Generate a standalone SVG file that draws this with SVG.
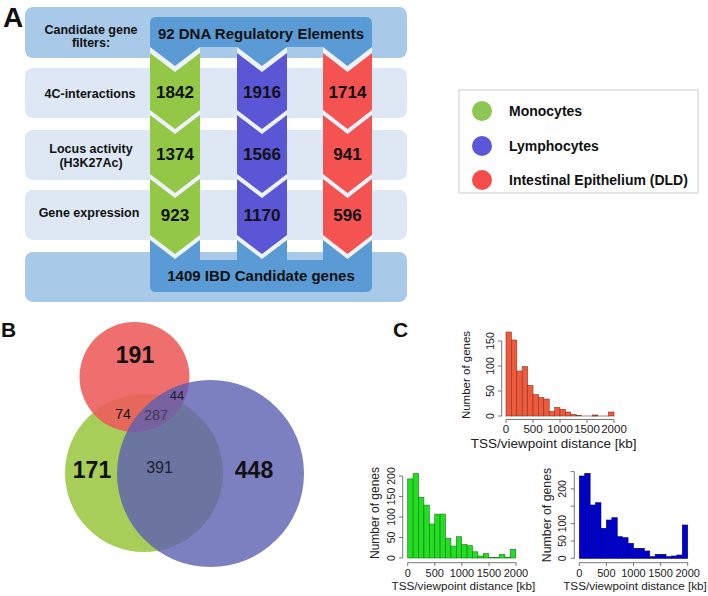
<svg xmlns="http://www.w3.org/2000/svg" width="708" height="596" viewBox="0 0 708 596">
<style>
text{font-family:"Liberation Sans",Arial,sans-serif;fill:#111}
.b{font-weight:bold}
.lbl{font-size:12.5px;font-weight:bold;text-anchor:middle}
.num{font-size:17px;font-weight:bold;text-anchor:middle}
.band{fill:#a9c9e9}
.row{fill:#dde8f4}
.dk{fill:#5b9bd5}
.gr{fill:#92c846}
.bl{fill:#5a56d6}
.rd{fill:#f55252}
.gap{fill:#eef3fa}
.ax{stroke:#555;stroke-width:0.8;fill:none}
.hr rect{fill:#f05a3c;stroke:#8a3322;stroke-width:0.6}
.hg rect{fill:#22dd22;stroke:#137a13;stroke-width:0.6}
.hb rect{fill:#0000cc;stroke:#00007a;stroke-width:0.6}
.tk{font-size:11.5px;text-anchor:middle;fill:#222}
.tk2{font-size:11px;text-anchor:middle;fill:#222}
.yt{font-size:10.5px;text-anchor:middle;fill:#222}
</style>

<!-- Panel A -->
<text class="b" x="3" y="27" font-size="28">A</text>
<g id="bands">
<rect class="band" x="25" y="7" width="382" height="51" rx="8"/>
<rect class="row" x="25" y="68" width="382" height="50" rx="8"/>
<rect class="row" x="25" y="130" width="382" height="50" rx="8"/>
<rect class="row" x="25" y="190" width="382" height="50" rx="8"/>
<rect class="band" x="25" y="252" width="382" height="50" rx="8"/>
</g>
<g id="row-labels">
<text class="lbl" x="91" y="33.5">Candidate gene</text>
<text class="lbl" x="91" y="47">filters:</text>
<text class="lbl" x="90" y="98">4C-interactions</text>
<text class="lbl" x="91" y="153">Locus activity</text>
<text class="lbl" x="91" y="167">(H3K27Ac)</text>
<text class="lbl" x="89" y="217">Gene expression</text>
</g>
<g id="column-gaps">
<rect class="gap" x="150" y="47" width="50" height="214"/>
<rect class="gap" x="237" y="47" width="50" height="214"/>
<rect class="gap" x="323" y="47" width="49" height="214"/>
</g>
<g id="bottom-box">
<path class="dk" d="M150,240 L175,259 L200,240 L200,260 L237,260 L237,240 L262,259 L287,240 L287,260 L323,260 L323,240 L347.5,259 L372,240 L372,286 Q372,292 366,292 L156,292 Q150,292 150,286 Z"/>
<text class="b" x="261" y="281" font-size="15" text-anchor="middle">1409 IBD Candidate genes</text>
</g>
<g id="monocytes-column">
<polygon class="gr" points="150,53 175,72 200,53 200,110 175,129 150,110"/>
<polygon class="gr" points="150,115 175,134 200,115 200,174 175,193 150,174"/>
<polygon class="gr" points="150,179 175,198 200,179 200,235 175,254 150,235"/>
<text class="num" x="175" y="98">1842</text>
<text class="num" x="175" y="160">1374</text>
<text class="num" x="175" y="221">923</text>
</g>
<g id="lymphocytes-column">
<polygon class="bl" points="237,53 262,72 287,53 287,110 262,129 237,110"/>
<polygon class="bl" points="237,115 262,134 287,115 287,174 262,193 237,174"/>
<polygon class="bl" points="237,179 262,198 287,179 287,235 262,254 237,235"/>
<text class="num" x="262" y="98">1916</text>
<text class="num" x="262" y="160">1566</text>
<text class="num" x="262" y="221">1170</text>
</g>
<g id="epithelium-column">
<polygon class="rd" points="323,53 347.5,72 372,53 372,110 347.5,129 323,110"/>
<polygon class="rd" points="323,115 347.5,134 372,115 372,174 347.5,193 323,174"/>
<polygon class="rd" points="323,179 347.5,198 372,179 372,235 347.5,254 323,235"/>
<text class="num" x="347.5" y="98">1714</text>
<text class="num" x="347.5" y="160">941</text>
<text class="num" x="347.5" y="221">596</text>
</g>
<g id="top-box">
<path class="dk" d="M156,17 L366,17 Q372,17 372,23 L372,47 L347.5,66 L323,47 L287,47 L262,66 L237,47 L200,47 L175,66 L150,47 L150,23 Q150,17 156,17 Z"/>
<text class="b" x="261" y="38.5" font-size="15" text-anchor="middle">92 DNA Regulatory Elements</text>
</g>

<!-- Legend -->
<g id="legend">
<rect x="459" y="90" width="239" height="103" fill="#fff" stroke="#cccccc" stroke-width="1"/>
<circle cx="482" cy="111" r="10" fill="#8dc653"/>
<circle cx="482" cy="146" r="10" fill="#5b57d9"/>
<circle cx="482" cy="180" r="10" fill="#f44b4b"/>
<text class="b" x="509" y="116" font-size="14">Monocytes</text>
<text class="b" x="509" y="151" font-size="14">Lymphocytes</text>
<text class="b" x="509" y="185" font-size="14">Intestinal Epithelium (DLD)</text>
</g>

<!-- Panel B -->
<text class="b" x="1" y="337" font-size="21">B</text>
<g id="venn">
<circle cx="144" cy="473" r="79" fill="#a8ce5a"/>
<circle cx="134.5" cy="377" r="55" fill="#ed5a5a" opacity="0.88"/>
<circle cx="210.5" cy="473.5" r="93.5" fill="#5b5fb0" opacity="0.8"/>
<text class="b" x="135" y="363" font-size="23" text-anchor="middle">191</text>
<text class="b" x="92" y="478" font-size="23" text-anchor="middle">171</text>
<text class="b" x="254" y="478" font-size="23" text-anchor="middle">448</text>
<text x="123" y="419" font-size="14" text-anchor="middle">74</text>
<text x="156" y="420" font-size="14.5" text-anchor="middle" style="fill:#45395a">287</text>
<text x="177" y="400" font-size="13" text-anchor="middle" style="fill:#1e1a30">44</text>
<text x="159.5" y="473" font-size="16" text-anchor="middle" style="fill:#1e2030">391</text>
</g>

<!-- Panel C -->
<text class="b" x="393" y="337" font-size="21">C</text>

<g id="hist-epithelium">
<g class="hr">
<rect x="506" y="332" width="5.4" height="84"/>
<rect x="511.4" y="340" width="5.4" height="76"/>
<rect x="516.8" y="371" width="5.4" height="45"/>
<rect x="522.2" y="366.5" width="5.4" height="49.5"/>
<rect x="527.6" y="385.5" width="5.4" height="30.5"/>
<rect x="533" y="394.5" width="5.4" height="21.5"/>
<rect x="538.4" y="397.5" width="5.4" height="18.5"/>
<rect x="543.8" y="399" width="5.4" height="17"/>
<rect x="549.2" y="411.5" width="5.4" height="4.5"/>
<rect x="554.6" y="407.5" width="5.4" height="8.5"/>
<rect x="560" y="409.5" width="5.4" height="6.5"/>
<rect x="565.4" y="412" width="5.4" height="4"/>
<rect x="570.8" y="414.5" width="5.4" height="1.5"/>
<rect x="576.2" y="415.5" width="5.4" height="0.5"/>
<rect x="592.4" y="415" width="5.4" height="1"/>
<rect x="608.6" y="412" width="5.4" height="4"/>
</g>
<line x1="581.6" y1="416" x2="608.6" y2="416" stroke="#8a3322" stroke-width="0.6"/>
<path class="ax" d="M501.7,416 V341 M501.7,416 H498 M501.7,391 H498 M501.7,366 H498 M501.7,341 H498"/>
<path class="ax" d="M506,419.5 H614 M506,419.5 V423 M533,419.5 V423 M560,419.5 V423 M587,419.5 V423 M614,419.5 V423"/>
<text class="yt" transform="translate(493.5,416) rotate(-90)">0</text>
<text class="yt" transform="translate(493.5,391) rotate(-90)">50</text>
<text class="yt" transform="translate(493.5,366) rotate(-90)">100</text>
<text class="yt" transform="translate(493.5,341) rotate(-90)">150</text>
<text class="tk" x="506" y="433">0</text>
<text class="tk" x="533" y="433">500</text>
<text class="tk" x="560" y="433">1000</text>
<text class="tk" x="587" y="433">1500</text>
<text class="tk" x="614" y="433">2000</text>
<text x="553.7" y="448" font-size="13.5" text-anchor="middle" style="fill:#222">TSS/viewpoint distance [kb]</text>
<text transform="translate(470,375) rotate(-90)" font-size="11.5" text-anchor="middle" style="fill:#222">Number of genes</text>
</g>

<g id="hist-monocytes">
<g class="hg">
<rect x="407.7" y="478.9" width="5.4" height="79.1"/>
<rect x="413.1" y="473.5" width="5.4" height="84.5"/>
<rect x="418.5" y="497.3" width="5.4" height="60.7"/>
<rect x="423.9" y="505.1" width="5.4" height="52.9"/>
<rect x="429.3" y="524" width="5.4" height="34"/>
<rect x="434.7" y="514.1" width="5.4" height="43.9"/>
<rect x="440.1" y="514.1" width="5.4" height="43.9"/>
<rect x="445.5" y="538.3" width="5.4" height="19.7"/>
<rect x="450.9" y="546.1" width="5.4" height="11.9"/>
<rect x="456.3" y="536.7" width="5.4" height="21.3"/>
<rect x="461.7" y="544.5" width="5.4" height="13.5"/>
<rect x="467.1" y="545.7" width="5.4" height="12.3"/>
<rect x="472.5" y="551.8" width="5.4" height="6.2"/>
<rect x="477.9" y="556" width="5.4" height="2"/>
<rect x="483.3" y="553.5" width="5.4" height="4.5"/>
<rect x="488.7" y="557.6" width="5.4" height="0.4"/>
<rect x="494.1" y="557.6" width="5.4" height="0.4"/>
<rect x="499.5" y="554.3" width="5.4" height="3.7"/>
<rect x="504.9" y="557.2" width="5.4" height="0.8"/>
<rect x="510.3" y="549.4" width="5.4" height="8.6"/>
</g>
<path class="ax" d="M402.7,558 V476 M402.7,558 H399 M402.7,537.5 H399 M402.7,517 H399 M402.7,496.5 H399 M402.7,476 H399"/>
<path class="ax" d="M407.7,562.7 H516 M407.7,562.7 V566 M434.8,562.7 V566 M461.9,562.7 V566 M489,562.7 V566 M516,562.7 V566"/>
<text class="yt" transform="translate(395,558) rotate(-90)">0</text>
<text class="yt" transform="translate(395,537.5) rotate(-90)">50</text>
<text class="yt" transform="translate(395,517) rotate(-90)">100</text>
<text class="yt" transform="translate(395,496.5) rotate(-90)">150</text>
<text class="yt" transform="translate(395,476) rotate(-90)">200</text>
<text class="tk2" x="407.7" y="577">0</text>
<text class="tk2" x="434.8" y="577">500</text>
<text class="tk2" x="461.9" y="577">1000</text>
<text class="tk2" x="489" y="577">1500</text>
<text class="tk2" x="516" y="577">2000</text>
<text x="463.4" y="590" font-size="11.7" text-anchor="middle" style="fill:#222">TSS/viewpoint distance [kb]</text>
<text transform="translate(379,513) rotate(-90)" font-size="12" text-anchor="middle" style="fill:#222">Number of genes</text>
</g>

<g id="hist-lymphocytes">
<g class="hb">
<rect x="579.3" y="476" width="5.42" height="82.3"/>
<rect x="584.72" y="473.3" width="5.42" height="85"/>
<rect x="590.14" y="505" width="5.42" height="53.3"/>
<rect x="595.56" y="502.7" width="5.42" height="55.6"/>
<rect x="600.98" y="528.3" width="5.42" height="30"/>
<rect x="606.4" y="520" width="5.42" height="38.3"/>
<rect x="611.82" y="517.7" width="5.42" height="40.6"/>
<rect x="617.24" y="536.7" width="5.42" height="21.6"/>
<rect x="622.66" y="537.7" width="5.42" height="20.6"/>
<rect x="628.08" y="543.3" width="5.42" height="15"/>
<rect x="633.5" y="548.3" width="5.42" height="10"/>
<rect x="638.92" y="548.3" width="5.42" height="10"/>
<rect x="644.34" y="551" width="5.42" height="7.3"/>
<rect x="649.76" y="556.7" width="5.42" height="1.6"/>
<rect x="655.18" y="554.3" width="5.42" height="4"/>
<rect x="660.6" y="554.3" width="5.42" height="4"/>
<rect x="666.02" y="556.7" width="5.42" height="1.6"/>
<rect x="671.44" y="556" width="5.42" height="2.3"/>
<rect x="676.86" y="555" width="5.42" height="3.3"/>
<rect x="682.28" y="525" width="5.42" height="33.3"/>
</g>
<path class="ax" d="M574.3,558.3 V471.6 M574.3,558.3 H570.7 M574.3,541 H570.7 M574.3,523.6 H570.7 M574.3,506.2 H570.7 M574.3,488.9 H570.7 M574.3,471.6 H570.7"/>
<path class="ax" d="M579.3,562.7 H687.7 M579.3,562.7 V566 M606.4,562.7 V566 M633.5,562.7 V566 M660.6,562.7 V566 M687.7,562.7 V566"/>
<text class="yt" transform="translate(565.5,558.3) rotate(-90)">0</text>
<text class="yt" transform="translate(565.5,541) rotate(-90)">50</text>
<text class="yt" transform="translate(565.5,523.6) rotate(-90)">100</text>
<text class="yt" transform="translate(565.5,488.9) rotate(-90)">200</text>
<text class="tk2" x="579.3" y="577">0</text>
<text class="tk2" x="606.4" y="577">500</text>
<text class="tk2" x="633.5" y="577">1000</text>
<text class="tk2" x="660.6" y="577">1500</text>
<text class="tk2" x="687.7" y="577">2000</text>
<text x="635" y="590" font-size="11.7" text-anchor="middle" style="fill:#222">TSS/viewpoint distance [kb]</text>
<text transform="translate(551,515) rotate(-90)" font-size="12.3" text-anchor="middle" style="fill:#222">Number of genes</text>
</g>
</svg>
